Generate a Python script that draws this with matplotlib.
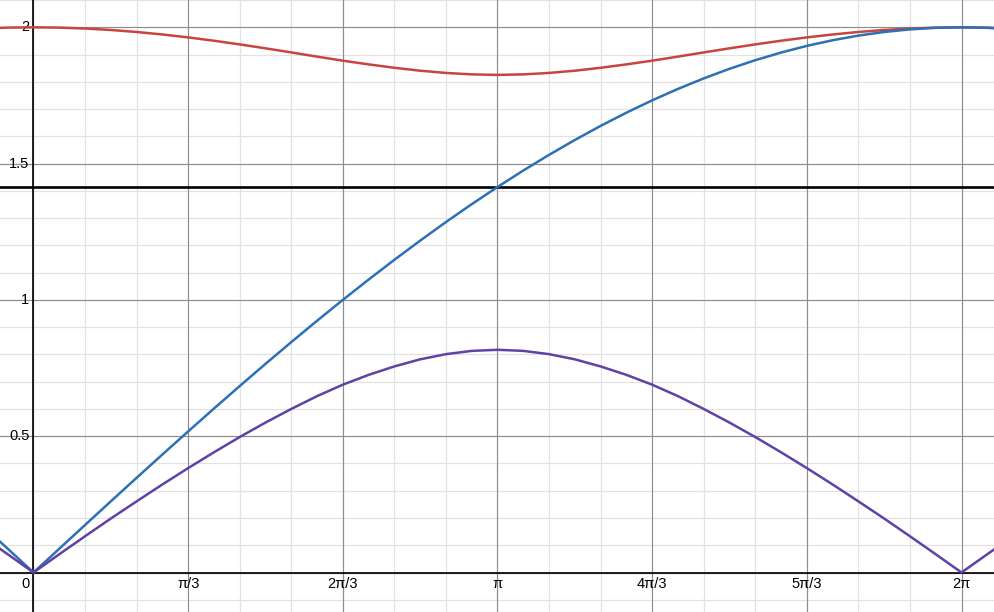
import numpy as np
from matplotlib import pyplot as plt
from matplotlib.transforms import offset_copy

# puntos leídos cada pi/18, desde -2pi/18 hasta 38pi/18
k = np.arange(-2, 39)
x = k * np.pi / 18

azul = [0.1743, 0.0872,
        0.0, 0.0872, 0.1743, 0.2611, 0.3473, 0.4329, 0.5176, 0.6014, 0.6840,
        0.7654, 0.8452, 0.9235, 1.0, 1.0746, 1.1472, 1.2175, 1.2856, 1.3512,
        1.4142, 1.4746, 1.5321, 1.5867, 1.6383, 1.6868, 1.7321, 1.7740, 1.8126,
        1.8478, 1.8794, 1.9074, 1.9319, 1.9526, 1.9696, 1.9829, 1.9924, 1.9981,
        2.0, 1.9981, 1.9924]

morado = [0.133, 0.067,
          0.0, 0.067, 0.133, 0.198, 0.261, 0.323, 0.383, 0.441, 0.497,
          0.550, 0.600, 0.647, 0.689, 0.725, 0.756, 0.782, 0.801, 0.813,
          0.817, 0.813, 0.801, 0.782, 0.756, 0.725, 0.689, 0.647, 0.600,
          0.550, 0.497, 0.441, 0.383, 0.323, 0.261, 0.198, 0.133, 0.067,
          0.0, 0.067, 0.133]

rojo = [1.9956, 1.9989,
        2.0, 1.9989, 1.9956, 1.9902, 1.9829, 1.9737, 1.9630, 1.9508, 1.9373,
        1.9229, 1.9079, 1.8925, 1.8776, 1.8640, 1.8516, 1.8408, 1.8326, 1.8273,
        1.8255, 1.8273, 1.8326, 1.8408, 1.8516, 1.8640, 1.8776, 1.8925, 1.9079,
        1.9229, 1.9373, 1.9508, 1.9630, 1.9737, 1.9829, 1.9902, 1.9956, 1.9989,
        2.0, 1.9989, 1.9956]

nivel = 1.4142  # recta horizontal

xticks = [np.pi / 3, 2 * np.pi / 3, np.pi, 4 * np.pi / 3, 5 * np.pi / 3, 2 * np.pi]
xlabels = ["π/3", "2π/3", "π", "4π/3", "5π/3", "2π"]
yticks = [0.5, 1, 1.5, 2]
ylabels = ["0.5", "1", "1.5", "2"]

plt.rcParams['font.family'] = ['Liberation Sans', 'DejaVu Sans']

fig = plt.figure(figsize=(9.95, 6.12), dpi=100)
ax = fig.add_axes([0, 0, 1, 1])
ax.set_xlim(-0.2268, 6.510)
ax.set_ylim(-0.1449, 2.1002)

# cuadrícula
for xm in np.arange(-1, 19) * np.pi / 9:
    ax.axvline(xm, color='#e2e2e2', lw=0.9, zorder=0)
for ym in np.arange(-1, 22) * 0.1:
    ax.axhline(ym, color='#e2e2e2', lw=0.9, zorder=0)
for xm in np.arange(-1, 7) * np.pi / 3:
    ax.axvline(xm, color='#8c8c8c', lw=0.8, zorder=1)
for ym in np.arange(-1, 5) * 0.5:
    ax.axhline(ym, color='#8c8c8c', lw=0.8, zorder=1)
ax.axvline(0, color='black', lw=1.2, zorder=2)
ax.axhline(0, color='black', lw=1.2, zorder=2)

# curvas
ax.axhline(nivel, color='black', lw=1.9, zorder=3)
ax.plot(x, rojo, color='#c74440', lw=1.8, zorder=4)
ax.plot(x, azul, color='#2d70b3', lw=1.8, zorder=5)
ax.plot(x, morado, color='#6042a6', lw=1.8, zorder=6)

ax.set_xticks([])
ax.set_yticks([])
for s in ax.spines.values():
    s.set_visible(False)

# etiquetas estilo desmos
tx = offset_copy(ax.transData, fig=fig, x=0, y=-11, units='dots')
for xt, lab in zip(xticks, xlabels):
    ax.text(xt, 0, lab, transform=tx, ha='center', va='center', fontsize=10.5)
t0 = offset_copy(ax.transData, fig=fig, x=-8, y=-11, units='dots')
ax.text(0, 0, "0", transform=t0, ha='center', va='center', fontsize=10.5)
ty = offset_copy(ax.transData, fig=fig, x=-4, y=0, units='dots')
for yt, lab in zip(yticks, ylabels):
    ax.text(0, yt, lab, transform=ty, ha='right', va='center', fontsize=10.5)

fig.savefig("out.png", dpi=100)
